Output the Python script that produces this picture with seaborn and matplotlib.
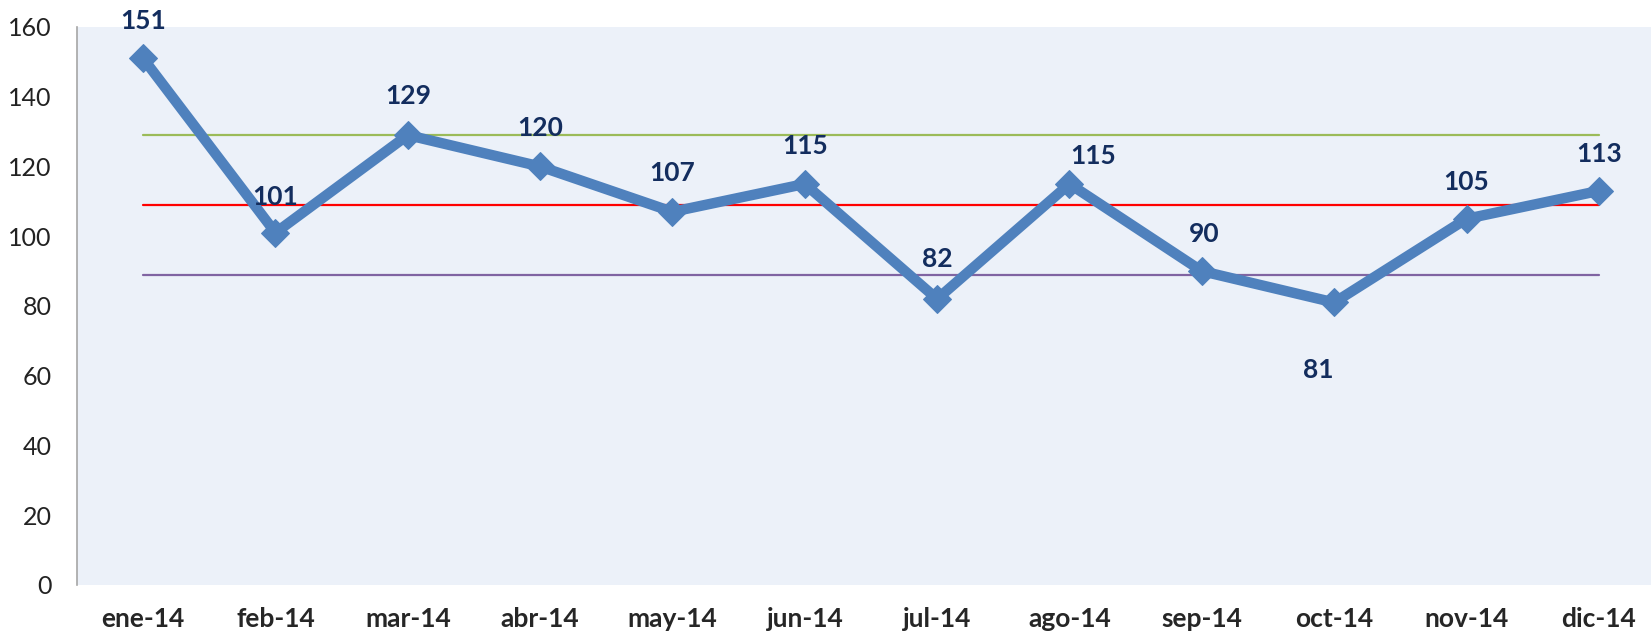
import pandas as pd
import seaborn as sns
import matplotlib.pyplot as plt

# datos del grafico
meses = ["ene-14", "feb-14", "mar-14", "abr-14", "may-14", "jun-14",
         "jul-14", "ago-14", "sep-14", "oct-14", "nov-14", "dic-14"]
valores = [151, 101, 129, 120, 107, 115, 82, 115, 90, 81, 105, 113]

limite_superior = 129
promedio = 109
limite_inferior = 89

sns.set_theme(style="white")
plt.rcParams["font.family"] = ["Lato", "DejaVu Sans"]

df = pd.DataFrame({"mes": meses, "valor": valores})
df["sup"] = limite_superior
df["prom"] = promedio
df["inf"] = limite_inferior

fig = plt.figure(figsize=(16.51, 6.38), dpi=100)
ax = fig.add_axes([0.0466, 0.0831, 0.9619, 0.8746])
ax.set_facecolor("#ECF1F9")

# lineas de referencia
sns.lineplot(data=df, x="mes", y="sup", color="#9BBB59", linewidth=1.6, sort=False, ax=ax)
sns.lineplot(data=df, x="mes", y="prom", color="#FF0000", linewidth=1.6, sort=False, ax=ax)
sns.lineplot(data=df, x="mes", y="inf", color="#8064A2", linewidth=1.6, sort=False, ax=ax)

# serie principal
sns.lineplot(data=df, x="mes", y="valor", color="#4F81BD", linewidth=7.5, sort=False,
             marker="D", markersize=14, markeredgecolor="#4F81BD", ax=ax)

# etiquetas de datos (desplazamiento en pixeles)
desplaz = [(0, 37), (0, 36), (0, 39), (0, 38), (0, 39), (0, 38),
           (0, 40), (24, 28), (2, 37), (-16, -68), (0, 37), (0, 37)]
for i, (v, (dx, dy)) in enumerate(zip(valores, desplaz)):
    ax.annotate(str(v), (i, v), xytext=(dx, dy), textcoords="offset pixels",
                ha="center", va="center", fontsize=19, fontweight="bold", color="#132D5E")

ax.set_xlim(-0.5, 11.5)
ax.set_ylim(0, 160)
ax.set_yticks(range(0, 161, 20))
ax.set_xlabel("")
ax.set_ylabel("")
ax.tick_params(axis="y", length=0, pad=18, labelsize=18, labelcolor="#222222")
ax.tick_params(axis="x", length=0, pad=16, labelsize=19)
for lbl in ax.get_xticklabels():
    lbl.set_fontweight("bold")

for s in ["top", "right", "bottom"]:
    ax.spines[s].set_visible(False)
ax.spines["left"].set_color("#A6A6A6")
ax.spines["left"].set_linewidth(1.2)

fig.savefig("out.png", dpi=100)
